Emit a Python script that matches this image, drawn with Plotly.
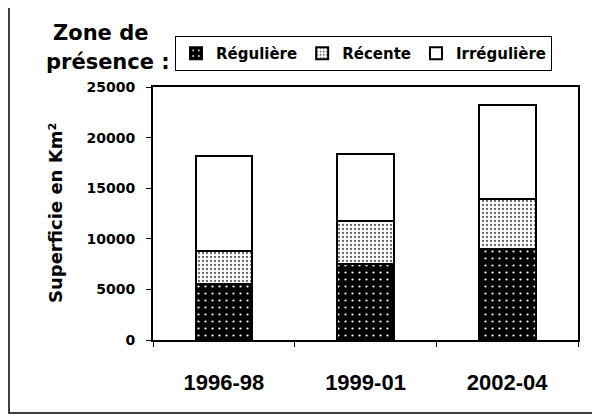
import plotly.graph_objects as go

categories = ["1996-98", "1999-01", "2002-04"]
reguliere = [5500, 7500, 9000]
recente = [3300, 4250, 4900]
irreguliere = [9400, 6600, 9300]
y_ticks = [0, 5000, 10000, 15000, 20000, 25000]

# page has an 8px body margin: figure coordinates = reference coordinates - 8
OFF = 8
W, H = 600 - OFF, 416 - OFF
L, R, T, B = 153 - OFF, 22, 87 - OFF, 76
pw, ph = W - L - R, H - T - B

def px(x):
    return (x - OFF - L) / pw

def py(y):
    return (H - B - (y - OFF)) / ph

wide = "DejaVu Sans"
line = dict(color="black", width=2)

fig = go.Figure()
fig.add_trace(go.Bar(
    x=categories, y=reguliere, name="Régulière",
    marker=dict(color="black", line=line,
                pattern=dict(shape=".", fgcolor="white", bgcolor="black",
                             size=7, solidity=0.08, fillmode="replace")),
))
fig.add_trace(go.Bar(
    x=categories, y=recente, name="Récente",
    marker=dict(color="white", line=line,
                pattern=dict(shape=".", fgcolor="#666", bgcolor="white",
                             size=4, solidity=0.25, fillmode="replace")),
))
fig.add_trace(go.Bar(
    x=categories, y=irreguliere, name="Irrégulière",
    marker=dict(color="white", line=line),
))

fig.update_layout(
    width=W, height=H,
    margin=dict(l=L, r=R, t=T, b=B, autoexpand=False),
    barmode="stack", bargap=0.6,
    plot_bgcolor="white", paper_bgcolor="white",
    showlegend=True,
    legend=dict(
        orientation="h", x=px(175), y=py(36), xanchor="left", yanchor="top",
        bordercolor="black", borderwidth=1, bgcolor="white",
        font=dict(family=wide, size=15, color="black", weight="bold"),
        itemwidth=30, traceorder="normal",
    ),
    font=dict(family=wide, color="black"),
)

fig.update_xaxes(
    type="category",
    showline=True, linecolor="black", linewidth=2, mirror=True,
    ticks="outside", tickson="boundaries", ticklen=5, tickcolor="black",
    tickfont=dict(family="Liberation Sans Narrow, Liberation Sans", size=22,
                  color="black", weight="bold"),
    ticklabelstandoff=22, showgrid=False, zeroline=False,
)
fig.update_yaxes(
    range=[0, 25000], tickvals=y_ticks, ticktext=[str(v) for v in y_ticks],
    showline=True, linecolor="black", linewidth=2, mirror=True,
    ticks="outside", ticklen=5, tickcolor="black",
    tickfont=dict(family=wide, size=14, color="black", weight="bold"),
    ticklabelstandoff=8, showgrid=False, zeroline=False,
)

ann_font = dict(family=wide, size=21, color="black", weight="bold")
fig.add_annotation(text="Zone de", x=px(100), y=py(33), xref="paper", yref="paper",
                   xanchor="center", yanchor="middle", showarrow=False, font=ann_font)
fig.add_annotation(text="présence :", x=px(108), y=py(62), xref="paper", yref="paper",
                   xanchor="center", yanchor="middle", showarrow=False, font=ann_font)
fig.add_annotation(text="Superficie en Km²", x=px(55), y=py(213), xref="paper", yref="paper",
                   xanchor="center", yanchor="middle", textangle=-90, showarrow=False,
                   font=dict(family=wide, size=18, color="black", weight="bold"))

fig.add_shape(type="rect", xref="paper", yref="paper",
              x0=px(9), x1=px(597), y0=py(413), y1=py(5),
              line=dict(color="black", width=1.5), layer="below")

fig.write_html("out.html")
